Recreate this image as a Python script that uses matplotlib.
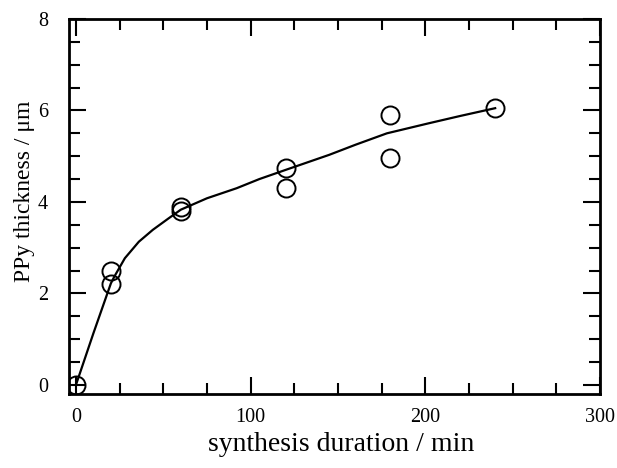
import numpy as np
import matplotlib
matplotlib.use("Agg")
import matplotlib.pyplot as plt
from matplotlib.ticker import MultipleLocator

# measured thickness (open circles)
duration = [0, 20, 20, 60, 60, 120, 120, 180, 180, 240]
thickness = [0.0, 2.5, 2.2, 3.9, 3.8, 4.75, 4.3, 5.9, 4.95, 6.05]

# fitted curve
fit_x = [0, 10, 20, 22, 28, 36, 44, 53, 60, 75, 92, 105, 120, 145, 160, 178, 202, 220, 240]
fit_y = [0.0, 1.13, 2.22, 2.37, 2.77, 3.13, 3.39, 3.64, 3.83, 4.08, 4.30, 4.50,
         4.70, 5.03, 5.25, 5.50, 5.72, 5.88, 6.05]

plt.rcParams["font.family"] = ["Liberation Serif", "DejaVu Serif"]

fig = plt.figure(figsize=(6.17, 4.68), dpi=100)
ax = fig.add_axes([0.1118, 0.1581, 0.8606, 0.8013])

ax.plot(fit_x, fit_y, color="black", lw=1.6)
ax.plot(duration, thickness, "o", ms=13, mfc="none", mec="black", mew=1.4)

ax.set_xlim(-4, 300)
ax.set_ylim(-0.2, 8)
ax.xaxis.set_major_locator(MultipleLocator(100))
ax.xaxis.set_minor_locator(MultipleLocator(25))
ax.yaxis.set_major_locator(MultipleLocator(2))
ax.yaxis.set_minor_locator(MultipleLocator(0.5))
ax.tick_params(which="both", direction="in", top=True, right=True,
               width=1.5, labelsize=14.5)
ax.tick_params(which="major", length=12)
ax.tick_params(which="minor", length=8)
ax.tick_params(axis="x", pad=10)
ax.tick_params(axis="y", pad=15)
for s in ax.spines.values():
    s.set_linewidth(2)

fig.text(341 / 617, 1 - 451 / 468, "synthesis duration / min", fontsize=20,
         ha="center", va="baseline")
fig.text(25 / 617, 1 - 191 / 468, "PPy thickness / \u03bcm", fontsize=17,
         ha="center", va="center", rotation=90)

fig.savefig("out.png", dpi=100)
